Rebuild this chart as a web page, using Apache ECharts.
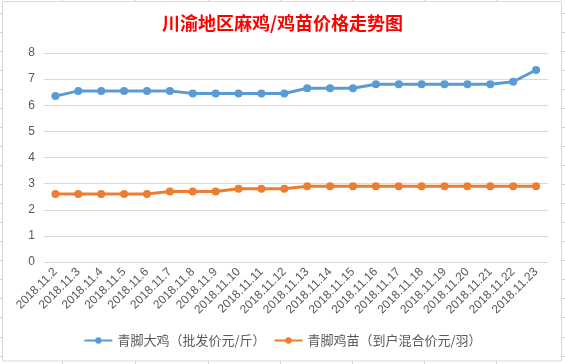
<!DOCTYPE html>
<html>
<head>
<meta charset="utf-8">
<script src="https://cdn.jsdelivr.net/npm/echarts@6/dist/echarts.min.js"></script>
<style>html,body{margin:0;padding:0;background:#fff;}#c{width:565px;height:364px;}</style>
</head>
<body>
<div id="c"></div>
<script>
const categories = ['2018.11.2','2018.11.3','2018.11.4','2018.11.5','2018.11.6','2018.11.7','2018.11.8','2018.11.9','2018.11.10','2018.11.11','2018.11.12','2018.11.13','2018.11.14','2018.11.15','2018.11.16','2018.11.17','2018.11.18','2018.11.19','2018.11.20','2018.11.21','2018.11.22','2018.11.23'];
const bigChicken = [6.35,6.55,6.55,6.55,6.55,6.55,6.45,6.45,6.45,6.45,6.45,6.65,6.65,6.65,6.8,6.8,6.8,6.8,6.8,6.8,6.9,7.35];
const chick = [2.6,2.6,2.6,2.6,2.6,2.7,2.7,2.7,2.8,2.8,2.8,2.9,2.9,2.9,2.9,2.9,2.9,2.9,2.9,2.9,2.9,2.9];
const seriesNames = ['青脚大鸡（批发价元/斤）','青脚鸡苗（到户混合价元/羽）'];
const titleText = '川渝地区麻鸡/鸡苗价格走势图';

const sheetCols = [62,135,208,280,352,424,496];
const sheetRows = [];
for (let y = 12.5; y < 364; y += 19.06) sheetRows.push(Math.round(y) + 0.5);

const graphics = [];
sheetCols.forEach(x => graphics.push({type:'line', z:-100, shape:{x1:x+0.5,y1:0,x2:x+0.5,y2:364}, style:{stroke:'#D4D4D4',lineWidth:1}}));
sheetRows.forEach(y => graphics.push({type:'line', z:-100, shape:{x1:0,y1:y,x2:565,y2:y}, style:{stroke:'#D4D4D4',lineWidth:1}}));
graphics.push({type:'rect', z:-50, shape:{x:2.5,y:1.5,width:559,height:359.5}, style:{fill:'#fff',stroke:'#D9D9D9',lineWidth:1}});

const chart = echarts.init(document.getElementById('c'));
chart.setOption({
  animation:false,
  backgroundColor:'#fff',
  graphic: graphics,
  title:{text:titleText,left:'center',top:9,textStyle:{color:'#FF0000',fontSize:18,fontWeight:'bold',fontFamily:'Noto Sans CJK SC'}},
  grid:{left:44,right:17.5,top:53,bottom:102,containLabel:false},
  legend:{bottom:12,left:'center',itemGap:8,itemWidth:28,itemHeight:8,textStyle:{color:'#595959',fontSize:13,fontFamily:'Noto Sans CJK SC'},data:seriesNames},
  xAxis:{type:'category',data:categories,boundaryGap:true,
    axisLine:{show:true,lineStyle:{color:'#D9D9D9'}},axisTick:{show:false},
    axisLabel:{rotate:45,interval:0,margin:8,color:'#595959',fontSize:12,fontFamily:'Liberation Sans'}},
  yAxis:{type:'value',min:0,max:8,interval:1,
    axisLine:{show:false},axisTick:{show:false},
    splitLine:{lineStyle:{color:'#D9D9D9'}},
    axisLabel:{margin:9,color:'#595959',fontSize:12,fontFamily:'Liberation Sans'}},
  series:[
    {name:seriesNames[0],type:'line',data:bigChicken,symbol:'circle',symbolSize:8,
     lineStyle:{width:3,color:'#5B9BD5'},itemStyle:{color:'#5B9BD5'}},
    {name:seriesNames[1],type:'line',data:chick,symbol:'circle',symbolSize:8,
     lineStyle:{width:3,color:'#ED7D31'},itemStyle:{color:'#ED7D31'}}
  ]
});
</script>
</body>
</html>
